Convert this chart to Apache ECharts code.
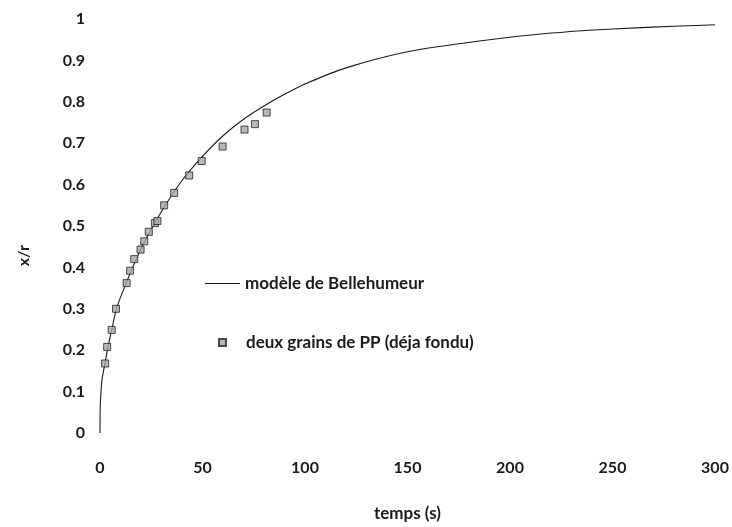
<!DOCTYPE html>
<html>
<head>
<meta charset="utf-8">
<script src="https://cdn.jsdelivr.net/npm/echarts@6/dist/echarts.min.js"></script>
<style>
  html, body { margin: 0; padding: 0; background: #fff; }
  #chart { width: 732px; height: 527px; }
</style>
</head>
<body>
<div id="chart"></div>
<script>
// Bellehumeur sintering model: neck ratio x/r versus time (s)
const modelTime = [0, 0.1, 0.5, 1, 2.5, 4, 6, 8, 13, 20, 30, 40, 50, 60, 70, 80, 90, 100, 120, 150, 185, 220, 250, 283, 300];
const modelValue = [0, 0.06, 0.1, 0.13, 0.17, 0.21, 0.255, 0.3, 0.365, 0.445, 0.535, 0.61, 0.668, 0.718, 0.758, 0.79, 0.818, 0.843, 0.882, 0.921, 0.947, 0.966, 0.976, 0.983, 0.986];

// Measurements: two PP grains (already molten)
const expTime = [2.5, 3.5, 5.7, 7.8, 13.0, 14.7, 16.7, 19.8, 21.6, 23.8, 26.8, 28.0, 31.3, 36.2, 43.5, 49.6, 59.8, 70.5, 75.6, 81.3];
const expValue = [0.168, 0.208, 0.249, 0.300, 0.362, 0.392, 0.420, 0.443, 0.463, 0.486, 0.507, 0.512, 0.550, 0.580, 0.622, 0.657, 0.692, 0.733, 0.746, 0.774];

const xTicks = [0, 50, 100, 150, 200, 250, 300];
const seriesNames = ['modèle de Bellehumeur', 'deux grains de PP (déja fondu)'];

const font = 'Lato, "Open Sans", sans-serif';
const textColor = '#1a1a1a';
const legendText = { fontFamily: font, fontSize: 17, fontWeight: 'bold', color: textColor };

const chart = echarts.init(document.getElementById('chart'));
chart.setOption({
  backgroundColor: '#fff',
  animation: false,
  textStyle: { fontFamily: font, color: textColor },
  grid: { left: 100, right: 17, top: 19, bottom: 90 },
  legend: [
    {
      left: 205,
      top: 275,
      padding: 0,
      itemWidth: 35,
      itemHeight: 10,
      data: [{ name: seriesNames[0], icon: 'path://M0,5 L35,5 L35,6 L0,6 Z' }],
      textStyle: legendText
    },
    {
      left: 218,
      top: 334,
      padding: 0,
      itemWidth: 7,
      itemHeight: 7,
      data: [{ name: seriesNames[1], icon: 'rect' }],
      textStyle: Object.assign({ padding: [0, 0, 0, 15] }, legendText)
    }
  ],
  xAxis: {
    type: 'value',
    min: xTicks[0],
    max: xTicks[xTicks.length - 1],
    interval: 50,
    name: 'temps (s)',
    nameLocation: 'middle',
    nameGap: 72,
    nameTextStyle: { fontFamily: font, fontSize: 17, fontWeight: 'bold', color: textColor },
    axisLine: { show: false },
    axisTick: { show: false },
    splitLine: { show: false },
    axisLabel: { margin: 27, fontFamily: font, fontSize: 16, fontWeight: 'bold', color: textColor }
  },
  yAxis: {
    type: 'value',
    min: 0,
    max: 1,
    interval: 0.1,
    axisLine: { show: false },
    axisTick: { show: false },
    splitLine: { show: false },
    axisLabel: {
      margin: 15,
      fontFamily: font, fontSize: 16, fontWeight: 'bold', color: textColor,
      formatter: v => String(Math.round(v * 10) / 10)
    }
  },
  graphic: [{
    type: 'text',
    left: 16,
    top: 245,
    rotation: Math.PI / 2,
    style: { text: 'x/r', font: 'bold 16px ' + font, fill: textColor }
  }],
  series: [
    {
      name: seriesNames[0],
      type: 'line',
      smooth: 0.25,
      showSymbol: false,
      symbol: 'none',
      lineStyle: { color: '#1a1a1a', width: 1.1 },
      itemStyle: { color: '#1a1a1a' },
      data: modelTime.map((t, i) => [t, modelValue[i]]),
      z: 2
    },
    {
      name: seriesNames[1],
      type: 'scatter',
      symbol: 'rect',
      symbolSize: 7,
      itemStyle: { color: '#a8a8a8', borderColor: '#222', borderWidth: 1 },
      data: expTime.map((t, i) => [t, expValue[i]]),
      z: 3
    }
  ]
});
</script>
</body>
</html>
